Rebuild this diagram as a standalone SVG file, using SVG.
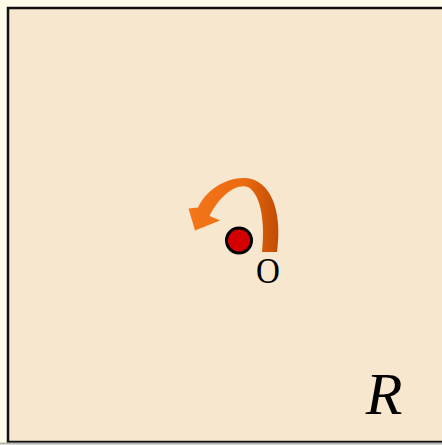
<svg xmlns="http://www.w3.org/2000/svg" width="442" height="445" viewBox="0 0 442 445">
<style>
.lbl{font-family:"Liberation Serif","Times New Roman",serif;fill:#000}
</style>
<defs>
<linearGradient id="rib" x1="190" y1="0" x2="282" y2="0" gradientUnits="userSpaceOnUse">
<stop offset="0" stop-color="#f4761a"/>
<stop offset="0.6" stop-color="#ea6a0e"/>
<stop offset="1" stop-color="#bb4802"/>
</linearGradient>
</defs>
<rect x="0" y="0" width="442" height="445" fill="#fffdea"/>
<rect x="8" y="8" width="440" height="434" fill="#f8e7cf" stroke="#111" stroke-width="2.5"/>
<line x1="0" y1="443.5" x2="442" y2="443.5" stroke="#b4b4b0" stroke-width="2"/>
<g id="connectors">
<path d="M 262 252 C 265 225 262 195 248 187 C 235 183 219 197 209.5 216 L 220 220.5 L 195 230.5 L 188.5 208.5 L 198 207.5 C 206 190 226 177 246 178 C 270 180 283 210 277 252 Z" fill="url(#rib)"/>
</g>
<g id="point-O">
<circle cx="239" cy="240.5" r="12.5" fill="#d40000" stroke="#000" stroke-width="3"/>
<text class="lbl" transform="translate(268 283) scale(0.92 1)" text-anchor="middle" font-size="36">O</text>
</g>
<g id="region-R">
<text class="lbl" x="384" y="414" text-anchor="middle" font-size="60" font-style="italic">R</text>
</g>
</svg>
